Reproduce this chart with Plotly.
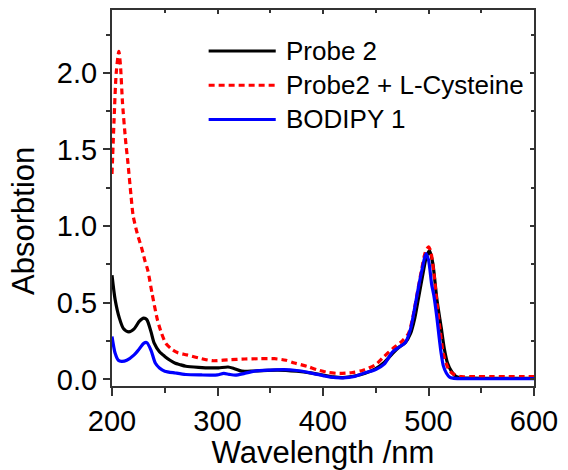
import plotly.graph_objects as go

# ---- data ----
series_names = ["Probe 2", "Probe2 + L-Cysteine", "BODIPY 1"]

probe2_wl = [200, 203, 207, 211, 216, 221, 226, 230, 233, 237, 240, 245, 250, 255, 260, 264,
             270, 282, 295, 301, 310, 316, 323, 335, 357, 375, 388, 400, 410, 419, 430, 440,
             450, 458, 466, 472, 478, 483, 487, 491, 495, 498, 501, 504, 508, 512, 515, 518,
             522, 526, 532, 540, 560, 600]
probe2_abs = [0.68, 0.52, 0.40, 0.33, 0.31, 0.33, 0.38, 0.40, 0.39, 0.31, 0.236, 0.18, 0.15, 0.125,
              0.105, 0.097, 0.086, 0.079, 0.075, 0.075, 0.081, 0.07, 0.054, 0.055, 0.06, 0.053,
              0.043, 0.028, 0.016, 0.012, 0.022, 0.04, 0.07, 0.11, 0.17, 0.21, 0.24, 0.30, 0.40,
              0.55, 0.70, 0.80, 0.84, 0.76, 0.52, 0.34, 0.20, 0.107, 0.05, 0.02, 0.01, 0.008,
              0.007, 0.007]

cys_wl = [200, 202, 204, 206.5, 208, 210, 213, 215, 218, 220, 224, 228, 231, 234, 238, 243, 247,
          251, 256, 262, 271, 282, 295, 310, 326, 340, 354, 365, 373, 385, 394, 405, 416, 428,
          438, 450, 458, 466, 475, 481, 485, 489, 493, 497, 500, 502, 505, 508, 511, 514, 517,
          520, 525, 531, 540, 560, 600]
cys_abs = [1.34, 1.7, 2.0, 2.14, 2.05, 1.80, 1.55, 1.42, 1.20, 1.07, 0.95, 0.86, 0.78, 0.71, 0.56,
           0.39, 0.30, 0.235, 0.20, 0.175, 0.16, 0.14, 0.122, 0.128, 0.133, 0.135, 0.135, 0.125,
           0.107, 0.085, 0.064, 0.045, 0.039, 0.045, 0.06, 0.097, 0.15, 0.20, 0.25, 0.30, 0.40,
           0.55, 0.70, 0.83, 0.865, 0.84, 0.70, 0.50, 0.32, 0.17, 0.10, 0.055, 0.03, 0.018,
           0.018, 0.018, 0.018]

bodipy_wl = [200, 203, 206, 209, 214, 221, 226, 230, 233, 237, 241, 245, 250, 260, 270, 285, 295,
             300, 306, 311, 317, 325, 335, 350, 363, 375, 388, 400, 407, 419, 430, 438, 450, 458,
             466, 472, 478, 483, 487, 491, 494, 497.5, 500, 503, 505, 508, 510, 512, 514, 517,
             520, 523, 530, 600]
bodipy_abs = [0.28, 0.17, 0.125, 0.118, 0.125, 0.16, 0.20, 0.235, 0.24, 0.19, 0.107, 0.075, 0.054,
              0.042, 0.032, 0.029, 0.028, 0.03, 0.039, 0.033, 0.028, 0.038, 0.054, 0.061, 0.064,
              0.058, 0.043, 0.025, 0.015, 0.010, 0.02, 0.039, 0.065, 0.10, 0.18, 0.21, 0.24,
              0.33, 0.47, 0.62, 0.72, 0.82, 0.78, 0.62, 0.55, 0.40, 0.28, 0.17, 0.09, 0.04,
              0.015, 0.008, 0.005, 0.005]

x_ticks = [200, 300, 400, 500, 600]
y_ticks = [0.0, 0.5, 1.0, 1.5, 2.0]

FONT = "Arial, Liberation Sans, sans-serif"
colors = ["#000000", "#ff0000", "#0000ff"]
dashes = ["solid", "6px,4px", "solid"]
xs = [probe2_wl, cys_wl, bodipy_wl]
ys = [probe2_abs, cys_abs, bodipy_abs]

fig = go.Figure()
for name, x, y, c, d in zip(series_names, xs, ys, colors, dashes):
    fig.add_trace(go.Scatter(x=x, y=y, mode="lines", name=name,
                             line=dict(color=c, width=3.2, dash=d, shape="spline", smoothing=0.7),
                             showlegend=False))

# empty trace to anchor top/right mirror axes with inside ticks
fig.add_trace(go.Scatter(x=[], y=[], xaxis="x2", yaxis="y2", showlegend=False, hoverinfo="skip"))

xr = [200, 600]
yr = [-0.043, 2.41]

fig.update_layout(
    width=568, height=470,
    margin=dict(l=112, r=28, t=10, b=80),
    paper_bgcolor="white", plot_bgcolor="white",
    font=dict(family=FONT, color="black"),
    xaxis=dict(range=xr, tickvals=x_ticks, ticktext=[str(v) for v in x_ticks],
               ticks="outside", ticklen=8, tickwidth=2, tickcolor="#333",
               minor=dict(dtick=50, ticks="outside", ticklen=5, tickwidth=2, tickcolor="#333"),
               showline=True, linecolor="#333", linewidth=2, showgrid=False, zeroline=False,
               tickfont=dict(size=29, family=FONT),
               title=dict(text="Wavelength /nm", font=dict(size=31, family=FONT), standoff=2)),
    yaxis=dict(range=yr, tickvals=y_ticks, ticktext=[f"{v:.1f}" for v in y_ticks],
               ticks="outside", ticklen=7, tickwidth=2, tickcolor="#333",
               minor=dict(dtick=0.25, tick0=0, ticks="outside", ticklen=4, tickwidth=2, tickcolor="#333"),
               showline=True, linecolor="#333", linewidth=2, showgrid=False, zeroline=False,
               tickfont=dict(size=29, family=FONT)),
    xaxis2=dict(range=xr, overlaying="x", side="top", anchor="y", tickvals=x_ticks,
                showticklabels=False, ticks="inside", ticklen=4, tickwidth=1.5, tickcolor="#333",
                minor=dict(dtick=50, ticks="inside", ticklen=3, tickwidth=1.5, tickcolor="#333"),
                showline=True, linecolor="#333", linewidth=2, showgrid=False, zeroline=False),
    yaxis2=dict(range=yr, overlaying="y", side="right", anchor="x", tickvals=y_ticks,
                showticklabels=False, ticks="inside", ticklen=4, tickwidth=1.5, tickcolor="#333",
                minor=dict(dtick=0.25, tick0=0, ticks="inside", ticklen=3, tickwidth=1.5, tickcolor="#333"),
                showline=True, linecolor="#333", linewidth=2, showgrid=False, zeroline=False),
)

# y-axis title as annotation (centred slightly below plot centre as in reference)
fig.add_annotation(text="Absorbtion", xref="paper", yref="paper", x=-0.21, y=0.44,
                   textangle=-90, showarrow=False, font=dict(size=31, family=FONT),
                   xanchor="center", yanchor="middle")

# manual legend (long line samples)
leg_y = [0.891, 0.80, 0.709]
for name, c, d, ly in zip(series_names, colors, dashes, leg_y):
    fig.add_shape(type="line", xref="paper", yref="paper", x0=0.229, x1=0.388, y0=ly, y1=ly,
                  line=dict(color=c, width=3, dash=d))
    fig.add_annotation(text=name, xref="paper", yref="paper", x=0.4065, y=ly, xanchor="left",
                       yanchor="middle", showarrow=False, font=dict(size=26, family=FONT))

fig.write_html("out.html")
